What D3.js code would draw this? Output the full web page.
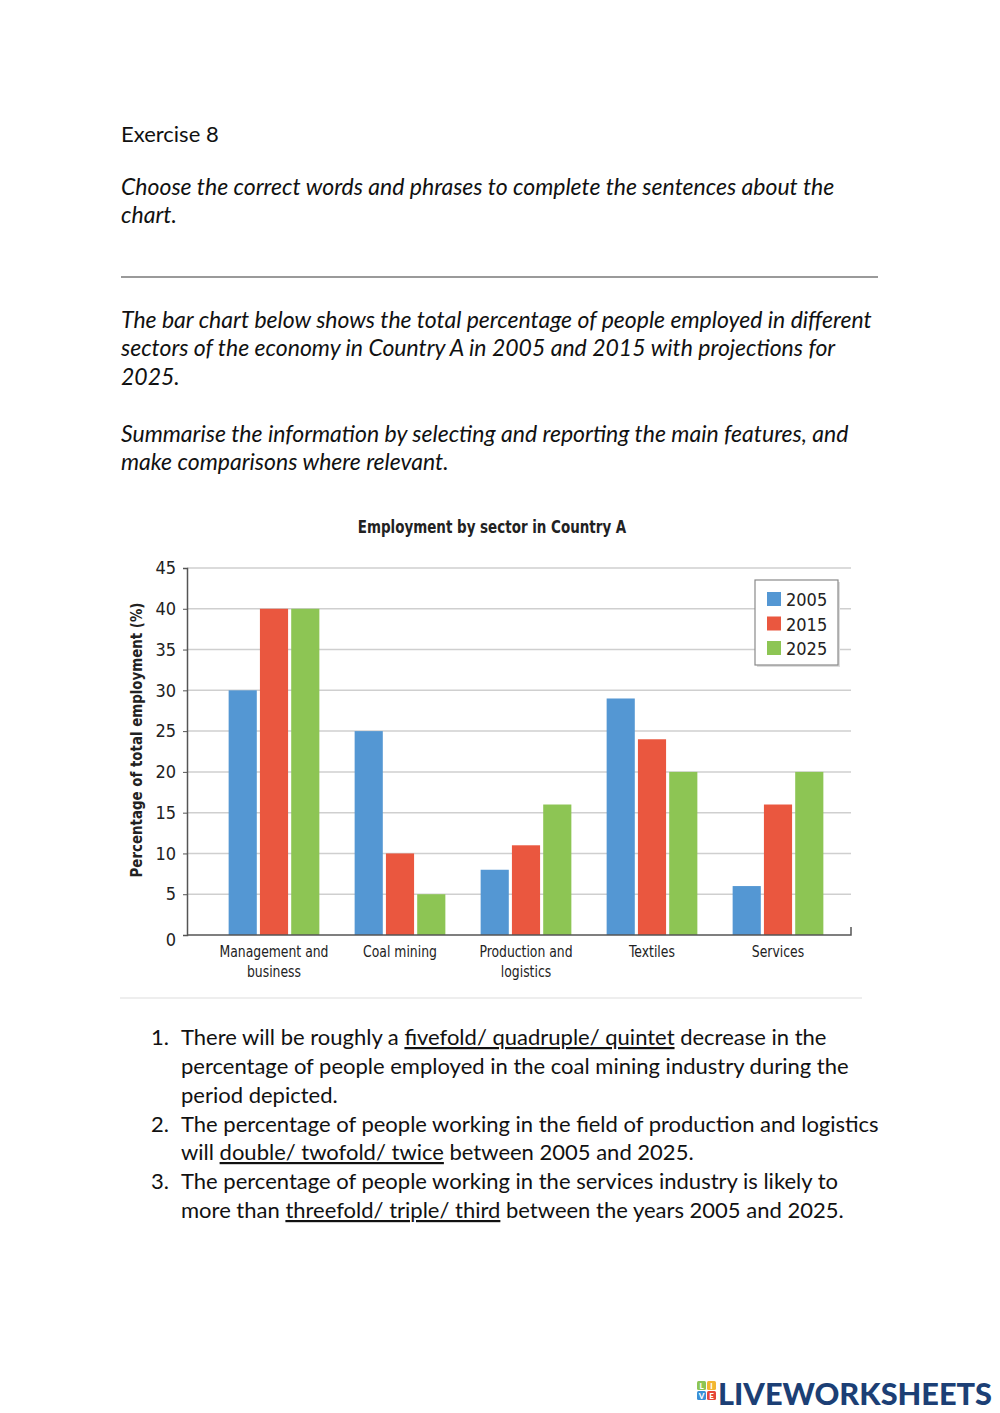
<!DOCTYPE html>
<html>
<head>
<meta charset="utf-8">
<script src="https://cdn.jsdelivr.net/npm/d3@7"></script>
<style>
  body { margin: 0; background: #fff; }
  .body-text { font-family: Lato, "Open Sans", sans-serif; fill: #111; }
  .chart-text { font-family: "Liberation Sans Narrow", "DejaVu Sans Condensed", "Liberation Sans", sans-serif; font-stretch: condensed; fill: #222; }
</style>
</head>
<body>
<svg id="page" width="1000" height="1413"></svg>
<script>
// chart data
let sectors = ["Management and business", "Coal mining", "Production and logistics", "Textiles", "Services"]
let sectorLines = [["Management and", "business"], ["Coal mining"], ["Production and", "logistics"], ["Textiles"], ["Services"]]
let years = ["2005", "2015", "2025"]
let v2005 = [30, 25, 8, 29, 6]
let v2015 = [40, 10, 11, 24, 16]
let v2025 = [40, 5, 16, 20, 20]
let yTicks = [0, 5, 10, 15, 20, 25, 30, 35, 40, 45]
let colors = ["#5497d3", "#ea573f", "#8dc554"]

let svg = d3.select("#page")

function page_text() {
  let t = (x, y, s, italic) => svg.append("text")
    .attr("class", "body-text")
    .attr("x", x).attr("y", y)
    .style("font-size", italic ? "23px" : "22px")
    .style("font-style", italic ? "italic" : "normal")
    .text(s)

  t(121, 142, "Exercise 8")
  t(121, 195, "Choose the correct words and phrases to complete the sentences about the", true)
  t(121, 223, "chart.", true)

  svg.append("line")
    .attr("x1", 121).attr("x2", 878).attr("y1", 277).attr("y2", 277)
    .attr("stroke", "#9a9a9a").attr("stroke-width", 2)

  t(121, 328, "The bar chart below shows the total percentage of people employed in different", true)
  t(121, 356, "sectors of the economy in Country A in 2005 and 2015 with projections for", true)
  t(121, 385, "2025.", true)
  t(121, 442, "Summarise the information by selecting and reporting the main features, and", true)
  t(121, 470, "make comparisons where relevant.", true)

  // numbered questions, the underlined part is the choice
  let items = [
    [["There will be roughly a ", 0], ["fivefold/ quadruple/ quintet", 1], [" decrease in the", 0]],
    [["percentage of people employed in the coal mining industry during the", 0]],
    [["period depicted.", 0]],
    [["The percentage of people working in the field of production and logistics", 0]],
    [["will ", 0], ["double/ twofold/ twice", 1], [" between 2005 and 2025.", 0]],
    [["The percentage of people working in the services industry is likely to", 0]],
    [["more than ", 0], ["threefold/ triple/ third", 1], [" between the years 2005 and 2025.", 0]]
  ]
  let nums = { 0: "1.", 3: "2.", 5: "3." }
  let lineY = [1045, 1074, 1103, 1132, 1160, 1189, 1218]
  items.forEach((parts, i) => {
    if (nums[i]) t(151, lineY[i], nums[i])
    let txt = svg.append("text")
      .attr("class", "body-text")
      .attr("x", 181).attr("y", lineY[i])
      .style("font-size", "22px")
    parts.forEach(p => {
      txt.append("tspan")
        .style("text-decoration", p[1] ? "underline" : "none")
        .text(p[0])
    })
  })
}

function chart() {
  let x0 = d3.scaleBand().domain(sectors).range([211, 841]).paddingInner(0.28).paddingOuter(0.14)
  let x1 = d3.scaleBand().domain(years).range([0, x0.bandwidth()]).paddingInner(0.1)
  let y = d3.scaleLinear().domain([0, 45]).range([935, 568])
  let left = 187, right = 851

  // title (squeezed to look like a narrow face)
  svg.append("text").attr("class", "chart-text")
    .attr("transform", "translate(492,533) scale(0.88,1)")
    .attr("text-anchor", "middle")
    .style("font-size", "17px").style("font-weight", "bold")
    .text("Employment by sector in Country A")

  // gridlines
  svg.append("g").selectAll("line")
    .data(yTicks.filter(d => d > 0)).enter()
    .append("line")
    .attr("x1", left).attr("x2", right)
    .attr("y1", d => y(d)).attr("y2", d => y(d))
    .attr("stroke", "#cfcfcf").attr("stroke-width", 1.5)

  // y axis
  let yAxis = svg.append("g")
    .attr("transform", `translate(${left},0)`)
    .call(d3.axisLeft(y).tickValues(yTicks).tickSize(4).tickPadding(7))
  yAxis.select(".domain").attr("stroke", "#555").attr("stroke-width", 1.5)
  yAxis.selectAll(".tick line").attr("stroke", "#555")
  yAxis.selectAll(".tick text")
    .attr("class", "chart-text")
    .style("font-size", "18px")
    .attr("fill", "#333")
    .attr("dy", d => d == 0 ? "0.6em" : "0.32em")

  // bars
  let series = [v2005, v2015, v2025]
  svg.append("g").selectAll("g")
    .data(sectors).enter()
    .append("g")
    .attr("transform", d => `translate(${x0(d)},0)`)
    .selectAll("rect")
    .data((d, i) => years.map((yr, j) => ({ yr, v: series[j][i], c: colors[j] })))
    .enter()
    .append("rect")
    .attr("x", d => x1(d.yr))
    .attr("width", x1.bandwidth())
    .attr("y", d => y(d.v))
    .attr("height", d => y(0) - y(d.v))
    .attr("fill", d => d.c)

  // x axis line with end tick
  svg.append("path")
    .attr("d", `M${left},${y(0)}H${right}V${y(0) - 8}`)
    .attr("fill", "none").attr("stroke", "#555").attr("stroke-width", 1.5)

  // category labels
  svg.append("g").selectAll("text")
    .data(sectors).enter()
    .append("text")
    .attr("class", "chart-text")
    .attr("text-anchor", "middle")
    .attr("transform", d => `translate(${x0(d) + x0.bandwidth() / 2},957) scale(0.89,1)`)
    .style("font-size", "15.5px")
    .each(function (d, i) {
      sectorLines[i].forEach((ln, k) => {
        d3.select(this).append("tspan")
          .attr("x", 0)
          .attr("dy", k ? 20 : 0)
          .text(ln)
      })
    })

  // y axis title
  svg.append("text").attr("class", "chart-text")
    .attr("transform", "translate(142,740) rotate(-90) scale(0.93,1)")
    .attr("text-anchor", "middle")
    .style("font-size", "16px").style("font-weight", "bold")
    .text("Percentage of total employment (%)")

  // legend
  let lg = svg.append("g").attr("transform", "translate(755,580)")
  lg.append("rect").attr("x", 2).attr("y", 2).attr("width", 83).attr("height", 85).attr("fill", "#ddd")
  lg.append("rect").attr("width", 83).attr("height", 85)
    .attr("fill", "#fff").attr("stroke", "#8a8a8a").attr("stroke-width", 1.2)
  years.forEach((yr, j) => {
    lg.append("rect").attr("x", 12).attr("y", 12 + j * 24.5).attr("width", 14).attr("height", 14).attr("fill", colors[j])
    lg.append("text").attr("class", "chart-text")
      .attr("x", 31).attr("y", 26 + j * 24.5)
      .style("font-size", "18px")
      .attr("fill", "#111")
      .text(yr)
  })

  // faint separator below chart
  svg.append("line")
    .attr("x1", 120).attr("x2", 862).attr("y1", 998).attr("y2", 998)
    .attr("stroke", "#eeeeee").attr("stroke-width", 2)
}

function logo() {
  let g = svg.append("g").attr("transform", "translate(697,1381)")
  let cells = [["L", "#8dc554", 0, 0], ["I", "#f2b632", 10, 0], ["V", "#3a8fd6", 0, 10], ["E", "#e5473a", 10, 10]]
  cells.forEach(c => {
    g.append("rect").attr("x", c[2]).attr("y", c[3]).attr("width", 9).attr("height", 9).attr("rx", 1.5).attr("fill", c[1])
    g.append("text").attr("x", c[2] + 4.5).attr("y", c[3] + 7.5).attr("text-anchor", "middle")
      .style("font-family", "Lato, sans-serif").style("font-size", "8px").style("font-weight", "900")
      .attr("fill", "#fff").text(c[0])
  })
  svg.append("text")
    .attr("x", 718).attr("y", 1405)
    .style("font-family", "Lato, 'Open Sans', sans-serif")
    .style("font-size", "30px").style("font-weight", "900")
    .attr("fill", "#1c3f75")
    .attr("textLength", 274).attr("lengthAdjust", "spacingAndGlyphs")
    .text("LIVEWORKSHEETS")
}

page_text()
chart()
logo()
</script>
</body>
</html>
